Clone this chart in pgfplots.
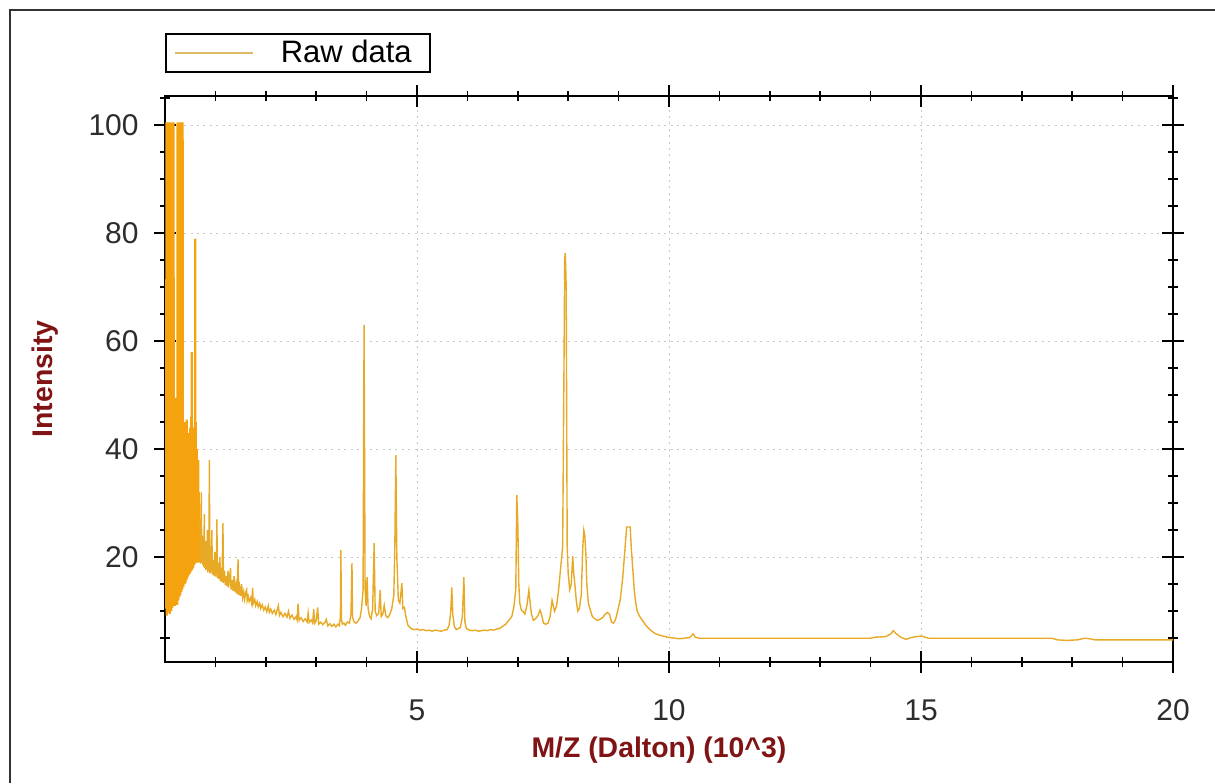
\documentclass[border=0pt]{standalone}
\usepackage{fontspec}
\setmainfont{Liberation Sans}
\usepackage{pgfplots}
\pgfplotsset{compat=1.18}
\definecolor{spec}{RGB}{245,162,15}
\definecolor{spect}{RGB}{232,170,38}
\definecolor{leg}{RGB}{222,186,100}
\definecolor{lab}{RGB}{128,20,20}
\definecolor{tk}{RGB}{45,45,45}
\begin{document}
\begin{tikzpicture}
\useasboundingbox (0,0) rectangle (607.5pt,391.5pt);
\draw[line width=0.8pt, black!80] (5pt,0pt) -- (5pt,386.5pt) -- (607.5pt,386.5pt);
\begin{axis}[
  at={(82.5pt,60.5pt)}, anchor=south west,
  scale only axis, width=504pt, height=283pt,
  xmin=0, xmax=20, ymin=0.6, ymax=105.4,
  xtick={5,10,15,20}, minor xtick={1,2,3,4,6,7,8,9,11,12,13,14,16,17,18,19},
  ytick={20,40,60,80,100}, minor ytick={5,10,15,25,30,35,45,50,55,65,70,75,85,90,95,105},
  tick align=center,
  major tick length=11pt, minor tick length=5pt,
  every tick/.style={black, line width=0.8pt},
  axis line style={black, line width=0.8pt},
  grid=major,
  major grid style={gray!45, line width=0.5pt, dash pattern=on 1pt off 2.2pt},
  /pgf/number format/assume math mode=true,
  tick label style={font=\fontsize{15}{18}\selectfont, text=tk, inner sep=0pt},
  xticklabel style={anchor=north, yshift=-13pt},
  yticklabel style={anchor=east, xshift=-7.5pt},
  xlabel={M/Z (Dalton) (10\^{}3)},
  ylabel={Intensity},
  label style={font=\fontsize{14.2}{17}\selectfont\bfseries, text=lab, inner sep=0pt},
  xlabel style={at={(axis description cs:0.49,0)}, anchor=north, yshift=-37.5pt},
  ylabel style={at={(axis description cs:-0.119,0.5)}, anchor=center},
  legend style={at={(0,1)}, anchor=south west, yshift=11.5pt, draw=black, line width=0.8pt,
    inner sep=0pt, font=\fontsize{15.5}{18}\selectfont, nodes={inner sep=0pt}},
  legend cell align=left,
  legend image code/.code={\path[draw=none,fill=none] (0pt,-9.5pt) rectangle (57.5pt,9.5pt); \draw[#1, leg, line width=0.8pt] (4.5pt,0pt) -- (43.5pt,0pt);},
]
\addplot[spec, line width=1.1pt] coordinates {
(0.02,10.5)
(0.030,100.5)(0.035,9.2)(0.040,100.5)(0.045,11.5)(0.050,100.5)(0.055,9.8)(0.060,100.5)(0.065,13.5)
(0.070,100.5)(0.075,10.2)(0.080,100.5)(0.085,12.0)(0.090,100.5)(0.095,9.5)(0.100,100.5)(0.105,11.0)
(0.110,100.5)(0.115,13.0)(0.120,100.5)(0.125,10.0)(0.130,100.5)(0.135,11.8)(0.140,100.5)(0.145,10.6)
(0.150,100.5)(0.155,12.5)(0.160,100.5)(0.165,11.0)(0.170,100.5)(0.175,11.5)
(0.180,42)(0.185,12.8)(0.190,44)(0.195,11.0)(0.200,49.5)(0.205,12.2)
(0.210,40)(0.215,11.4)(0.220,43)(0.225,13.0)(0.230,37)(0.235,12.0)(0.240,45)(0.245,11.2)
(0.250,100.5)(0.255,13.2)(0.260,100.5)(0.265,12.0)(0.270,100.5)(0.275,14.5)(0.280,100.5)(0.285,12.6)
(0.290,100.5)(0.295,14.0)(0.300,100.5)(0.305,13.0)(0.310,100.5)(0.315,15.0)(0.320,100.5)(0.325,13.6)
(0.330,100.5)(0.335,14.8)(0.340,100.5)(0.345,14.0)(0.350,100.5)
(0.355,15.0)(0.360,44)(0.365,14.5)(0.370,41)(0.375,15.5)(0.380,45)(0.385,15.0)(0.390,39)
(0.395,16.0)(0.400,43)(0.405,15.2)(0.410,40)(0.415,16.5)(0.420,44)(0.425,15.8)(0.430,45.5)
(0.435,16.2)(0.440,41)(0.445,17.0)(0.450,38)(0.455,16.4)(0.460,42)(0.465,17.2)(0.470,40)
(0.475,16.8)(0.480,43)(0.485,17.5)(0.490,39)(0.495,17.0)(0.500,44)(0.505,17.8)(0.510,41)
(0.515,17.4)(0.520,46)(0.525,18.0)(0.530,58)(0.535,17.6)(0.540,44)(0.545,18.2)(0.550,40)
(0.555,18.0)(0.560,42)(0.565,18.5)(0.570,42)(0.575,18.6)(0.580,38)(0.585,19.0)(0.590,44)
(0.595,18.8)(0.600,79)(0.605,19.2)(0.610,45)(0.615,19.4)(0.620,37)(0.625,19.0)(0.630,40)
(0.635,19.6)(0.640,34)(0.645,19.2)(0.650,36)(0.655,19.8)(0.660,38)(0.665,19.0)(0.670,32)
(0.675,19.5)(0.680,30)(0.685,19.0)(0.690,27)
};
\addlegendentry{Raw data\rule{9pt}{0pt}}
\addplot[spect, line width=0.7pt, forget plot] coordinates {
(0.690,27)
(0.70,20.5)(0.71,18.8)(0.72,32)(0.73,19.0)(0.74,24)(0.75,18.6)(0.76,22)(0.77,18.2)(0.78,28)
(0.79,18.0)(0.80,23)(0.81,17.6)(0.82,21)(0.83,17.8)(0.84,25)(0.85,17.2)(0.86,20)(0.87,17.5)
(0.88,38)(0.89,17.0)(0.90,22)(0.91,17.2)(0.92,20)(0.93,25)(0.94,16.8)(0.96,19.5)(0.97,16.6)
(0.99,21)(1.00,16.4)(1.02,18.5)(1.03,27)(1.04,16.2)(1.06,19)(1.07,16.0)(1.09,20)(1.10,15.6)
(1.12,18)(1.13,15.4)(1.15,26.3)(1.16,15.2)(1.18,17.5)(1.20,14.8)(1.22,16.5)(1.23,14.6)
(1.25,17.5)(1.26,14.4)(1.28,16)(1.30,18)(1.31,14.0)(1.33,15.8)(1.35,13.8)(1.37,16.5)
(1.39,13.5)(1.41,15)(1.43,13.2)(1.45,19.6)(1.46,13.0)(1.48,14.5)(1.50,12.8)(1.52,15.0)
(1.54,12.5)(1.56,13.6)(1.58,12.2)(1.60,13.5)(1.62,14.0)(1.63,12.0)(1.65,12.8)(1.67,11.8)
(1.70,12.5)(1.72,11.5)(1.74,14.3)(1.75,11.4)(1.78,12.2)(1.80,11.0)(1.83,11.8)(1.85,10.8)
(1.88,11.5)(1.90,10.5)(1.93,11.2)(1.96,10.2)(1.99,10.8)(2.02,9.9)(2.05,11.0)(2.07,9.8)
(2.10,10.4)(2.13,9.6)(2.17,10.2)(2.20,9.4)(2.25,11.0)(2.27,9.2)(2.30,9.8)(2.34,9.0)
(2.38,9.6)(2.42,8.9)(2.45,10.0)(2.48,8.7)(2.52,9.3)(2.56,8.5)(2.60,9.0)(2.62,8.4)
(2.64,11.4)(2.66,8.3)(2.70,8.8)(2.74,8.1)(2.78,8.6)(2.82,8.0)(2.84,9.7)(2.86,7.9)
(2.90,8.4)(2.93,7.8)(2.95,10.4)(2.97,7.8)(3.00,8.2)(3.03,10.7)(3.05,7.6)(3.09,8.0)
(3.13,7.5)(3.17,7.9)(3.20,8.5)(3.23,7.3)(3.27,7.7)(3.31,7.2)(3.35,7.6)(3.39,7.1)
(3.43,7.6)(3.46,7.3)(3.48,9)(3.49,21.3)(3.50,8.5)(3.52,7.6)(3.55,7.8)(3.58,7.4)
(3.62,8.0)(3.66,7.8)(3.69,9.5)(3.71,18.9)(3.72,9.0)(3.75,8.0)(3.79,7.8)(3.83,8.2)
(3.87,8.8)(3.90,10.5)(3.93,14)(3.95,63)(3.97,14)(3.99,11)(4.01,16.3)(4.03,10.5)
(4.06,9)(4.09,8.6)(4.12,10.5)(4.15,22.6)(4.17,10)(4.20,9.2)(4.24,9.6)(4.27,13.9)
(4.29,9.0)(4.32,9.4)(4.35,11.1)(4.38,9.2)(4.42,8.8)(4.46,9.4)(4.50,10.5)(4.54,13)
(4.56,22)(4.58,38.9)(4.60,20)(4.63,12)(4.66,11.5)(4.70,15.2)(4.72,10.5)(4.75,10.7)
(4.78,9.0)(4.82,7.4)(4.86,7.0)(4.90,6.7)
(4.95,6.6)(5.00,6.7)(5.06,6.5)(5.12,6.6)(5.18,6.4)(5.24,6.5)(5.30,6.3)(5.36,6.5)
(5.42,6.4)(5.48,6.3)(5.54,6.5)(5.60,6.6)(5.64,7.5)(5.67,10)(5.69,14.4)(5.71,9.5)
(5.74,7.2)(5.78,6.6)(5.82,6.8)(5.86,7.0)(5.90,9.0)(5.93,16.3)(5.95,8.0)(5.98,6.8)
(6.04,6.5)(6.10,6.4)(6.16,6.5)(6.22,6.3)(6.28,6.4)(6.34,6.5)(6.40,6.4)(6.46,6.6)
(6.52,6.5)(6.58,6.7)(6.64,6.8)(6.70,7.2)(6.76,7.6)(6.82,8.3)(6.88,9.0)(6.92,10.7)
(6.96,14)(6.98,31.5)(7.00,26.3)(7.02,15)(7.04,11.5)(7.07,10.2)(7.10,10.0)(7.14,9.5)
(7.18,11)(7.22,13.9)(7.24,12)(7.27,9.5)(7.31,8.3)(7.35,8.6)(7.40,9.2)(7.44,10.2)
(7.47,9.4)(7.51,7.8)(7.55,7.6)(7.60,7.8)(7.64,9)(7.68,12)(7.73,10)(7.77,11)
(7.81,14)(7.85,18)(7.89,21.9)(7.92,60)(7.93,75)(7.94,76.3)(7.95,74)(7.96,70)(7.98,22)
(8.00,17)(8.03,14)(8.06,15)(8.09,20.2)(8.11,17)(8.13,15.2)(8.16,12)(8.19,10)
(8.22,10.5)(8.26,13)(8.29,22)(8.31,25)(8.33,24)(8.35,20.7)(8.37,15)(8.40,11.5)
(8.44,10.2)(8.48,9.0)(8.53,8.6)(8.58,8.3)(8.63,8.5)(8.68,8.8)(8.73,9.4)(8.78,9.8)
(8.82,9.4)(8.86,8.0)(8.90,7.8)(8.94,8.5)(8.98,10)(9.03,12)(9.08,16)(9.13,22)
(9.16,25.6)(9.20,25.6)(9.23,25.6)(9.25,22)(9.28,18)(9.31,14)(9.34,11.5)(9.37,10)
(9.42,9.0)(9.48,8.2)(9.54,7.4)(9.60,6.8)(9.66,6.3)(9.72,5.9)(9.80,5.6)(9.88,5.4)
(9.96,5.2)(10.04,5.1)(10.12,5.0)(10.20,4.9)(10.30,5.0)(10.40,5.1)(10.44,5.4)(10.48,5.8)
(10.52,5.2)(10.60,5.0)(11.0,5.0)(11.5,5.0)(12.5,5.0)(13.5,5.0)(14.0,5.0)(14.1,5.2)
(14.3,5.3)(14.4,5.8)(14.45,6.4)(14.5,5.9)(14.6,5.2)(14.7,4.8)(14.8,5.1)(14.9,5.3)
(15.0,5.4)(15.05,5.3)(15.15,5.0)(15.5,5.0)(16.5,5.0)(17.5,5.0)(17.6,5.0)(17.7,4.7)
(17.9,4.6)(18.1,4.7)(18.25,5.0)(18.35,4.9)(18.45,4.7)(19.0,4.7)(20.0,4.7)
};
\end{axis}
\end{tikzpicture}
\end{document}
